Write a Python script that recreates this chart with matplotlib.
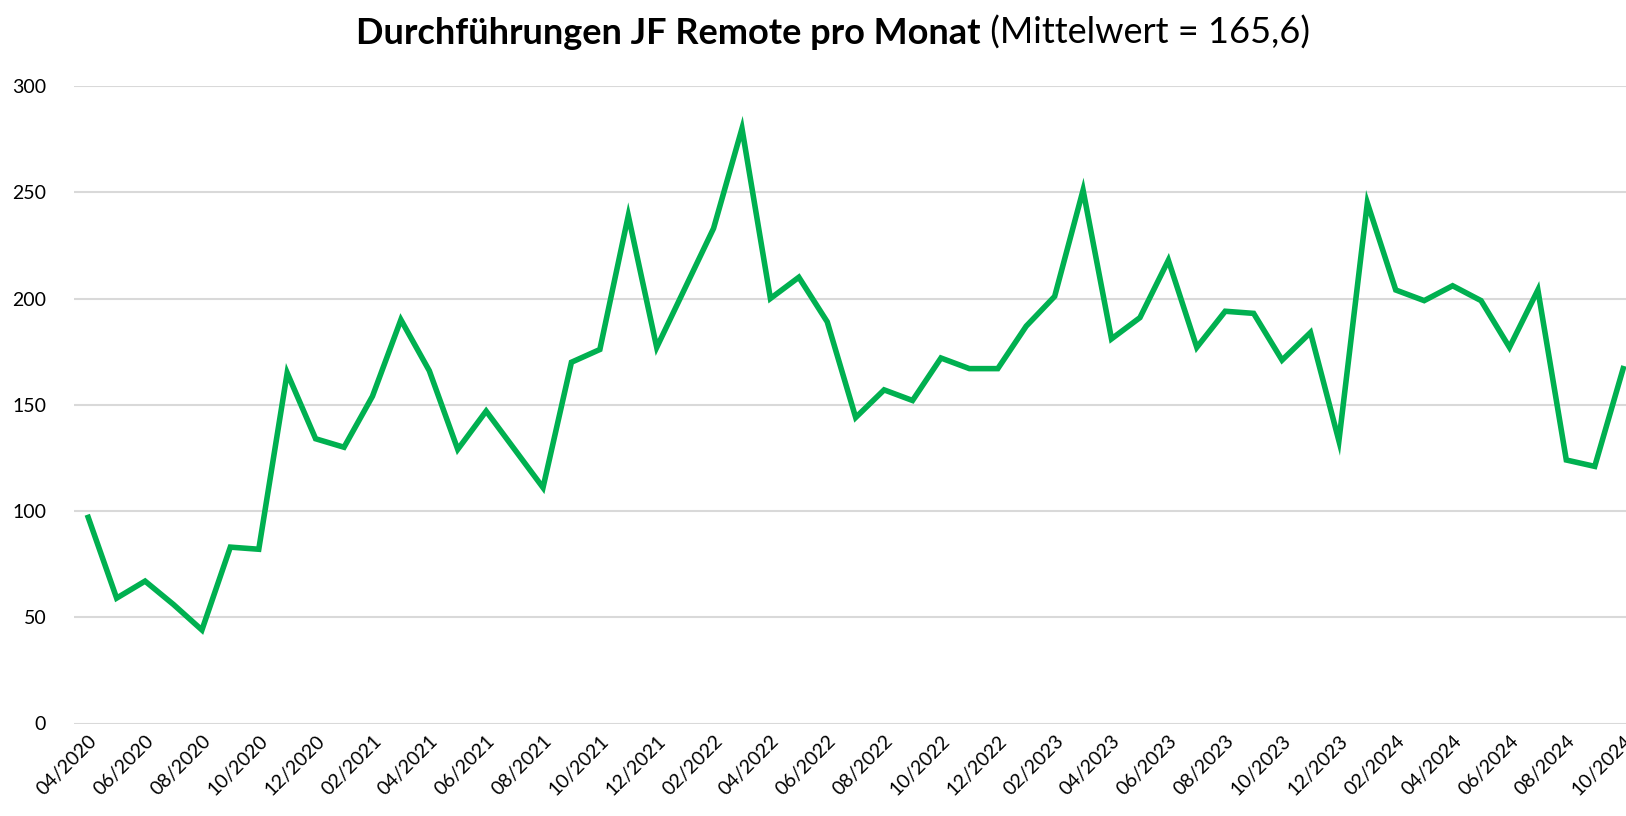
import matplotlib
matplotlib.use("Agg")
import matplotlib.pyplot as plt

# Monthly values 04/2020 .. 10/2024
months = [f"{m:02d}/{y}" for y in range(2020, 2025) for m in range(1, 13)]
months = months[months.index("04/2020"):months.index("10/2024") + 1]
values = [97, 59, 67, 56, 44, 83, 82, 165, 134, 130,
          154, 190, 166, 129, 147, 129, 111, 170, 176, 239,
          177, 205, 233, 280, 200, 210, 189, 144, 157, 152,
          172, 167, 167, 187, 201, 251, 181, 191, 218, 177,
          194, 193, 171, 184, 133, 245, 204, 199, 206, 199,
          177, 204, 124, 121, 167]
y_ticks = [0, 50, 100, 150, 200, 250, 300]

title_bold = "Durchführungen JF Remote pro Monat"
mean_val = sum(values) / len(values)
title_rest = f" (Mittelwert = {mean_val:.1f})".replace(".", ",")

plt.rcParams['font.family'] = ['Lato', 'DejaVu Sans']

fig = plt.figure(figsize=(16.26, 8.16), dpi=100)
ax = fig.add_axes([74 / 1626, 1 - 723.5 / 816, 1 - 74 / 1626, (723.5 - 86) / 816])

x = list(range(len(values)))
ax.plot(x, values, color="#00b050", linewidth=4, solid_joinstyle="miter", zorder=3)

ax.set_xlim(-0.5, len(values) - 1 + 0.1)
ax.set_ylim(0, 300)
ax.set_yticks(y_ticks)
ax.set_yticklabels([str(v) for v in y_ticks])
ax.set_xticks(x[::2])
ax.set_xticklabels(months[::2], rotation=45, ha="right", rotation_mode="anchor")
ax.tick_params(axis="y", length=0, pad=20, labelsize=14)
ax.tick_params(axis="x", length=0, pad=6, labelsize=14)
ax.grid(axis="y", color="#d9d9d9", linewidth=1.5, zorder=0)
ax.set_axisbelow(True)
for s in ax.spines.values():
    s.set_visible(False)

# title in two weights, centered together
t1 = fig.text(0, 1 - 33 / 816, title_bold, fontsize=26, fontweight="bold", va="center", ha="left")
t2 = fig.text(0, 1 - 33 / 816, title_rest, fontsize=26, va="center", ha="left")
fig.canvas.draw()
r = fig.canvas.get_renderer()
w1 = t1.get_window_extent(r).width
w2 = t2.get_window_extent(r).width
start = 833 - (w1 + w2) / 2
t1.set_x(start / 1626)
t2.set_x((start + w1) / 1626)

fig.savefig("out.png", dpi=100)
